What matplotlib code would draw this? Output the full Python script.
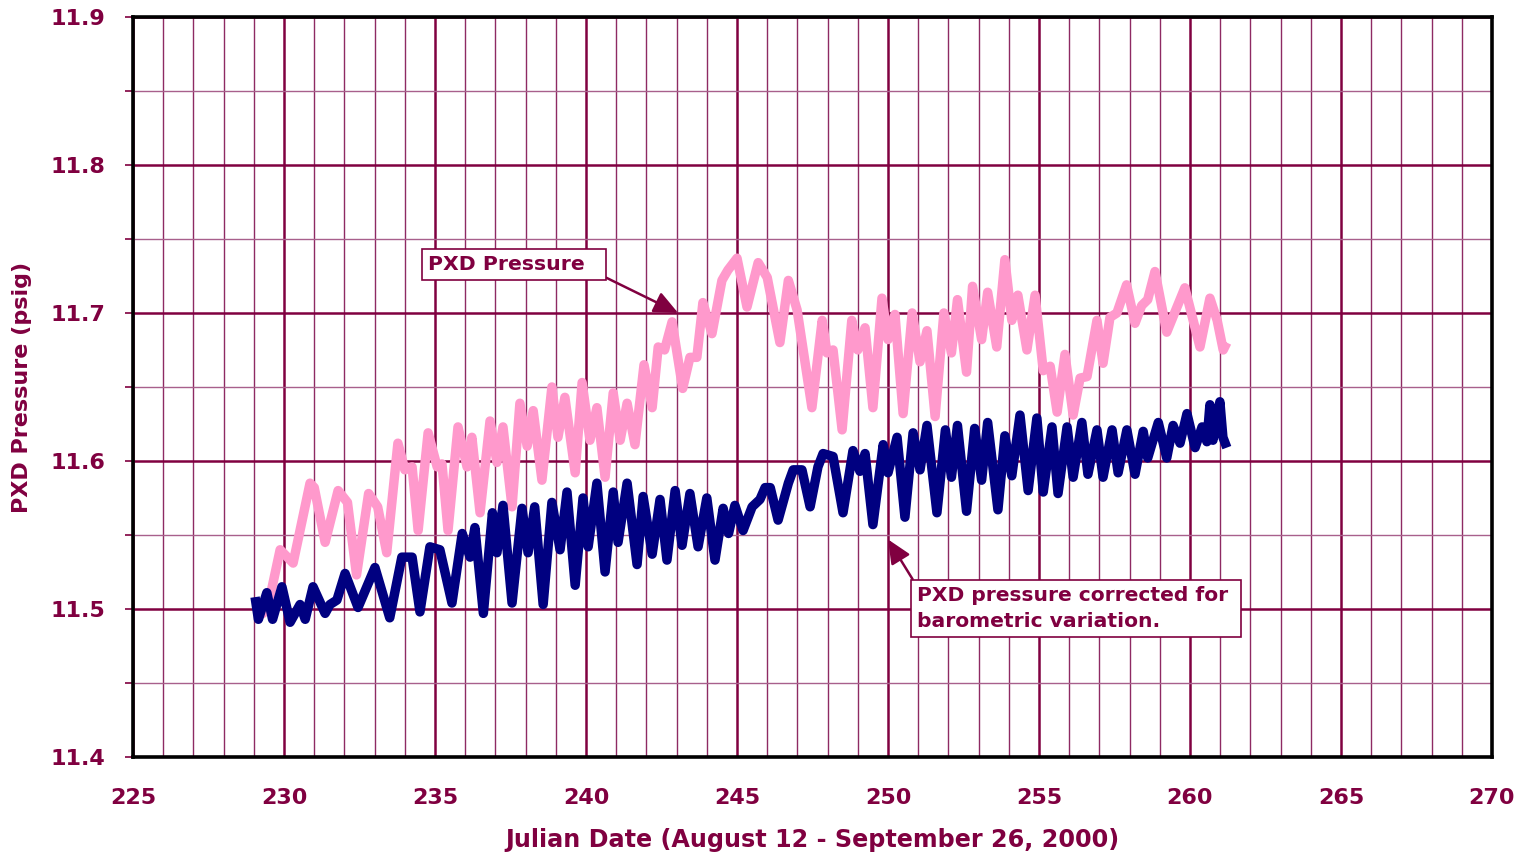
import matplotlib
matplotlib.use("Agg")
import matplotlib.pyplot as plt
from matplotlib.ticker import MultipleLocator

# Raw PXD pressure (psig) by Julian date
pxd_day = [229.10, 229.30, 229.45, 229.87, 230.30, 230.86, 231.00, 231.36, 231.79, 232.10,
           232.40, 232.80, 233.10, 233.40, 233.77, 234.00, 234.24, 234.44, 234.77, 235.07,
           235.23, 235.43, 235.76, 236.06, 236.22, 236.49, 236.82, 237.05, 237.25, 237.55,
           237.81, 238.05, 238.25, 238.54, 238.87, 239.07, 239.30, 239.64, 239.87, 240.13,
           240.36, 240.63, 240.90, 241.13, 241.36, 241.62, 241.92, 242.19, 242.39, 242.60,
           242.85, 243.20, 243.44, 243.67, 243.87, 244.17, 244.50, 244.70, 245.00, 245.33,
           245.70, 246.00, 246.42, 246.70, 246.99, 247.48, 247.82, 247.98, 248.18, 248.48,
           248.80, 249.00, 249.24, 249.50, 249.80, 250.00, 250.23, 250.50, 250.80, 251.06,
           251.29, 251.56, 251.85, 252.10, 252.30, 252.60, 252.80, 253.10, 253.30, 253.60,
           253.87, 254.10, 254.30, 254.60, 254.87, 255.14, 255.37, 255.60, 255.86, 256.13,
           256.36, 256.59, 256.92, 257.12, 257.35, 257.58, 257.90, 258.18, 258.40, 258.60,
           258.84, 259.23, 259.83, 260.33, 260.66, 260.90, 261.10, 261.22]
pxd_val = [11.495, 11.497, 11.500, 11.540, 11.531, 11.585, 11.582, 11.545, 11.580, 11.572,
           11.523, 11.578, 11.569, 11.538, 11.612, 11.594, 11.596, 11.553, 11.619, 11.596,
           11.598, 11.553, 11.623, 11.596, 11.616, 11.565, 11.627, 11.599, 11.623, 11.569,
           11.639, 11.610, 11.634, 11.587, 11.650, 11.616, 11.643, 11.592, 11.653, 11.614,
           11.636, 11.589, 11.646, 11.614, 11.639, 11.611, 11.665, 11.636, 11.677, 11.675,
           11.694, 11.649, 11.670, 11.670, 11.707, 11.686, 11.722, 11.729, 11.737, 11.704,
           11.734, 11.724, 11.680, 11.722, 11.702, 11.636, 11.695, 11.673, 11.675, 11.621,
           11.695, 11.675, 11.690, 11.636, 11.710, 11.682, 11.699, 11.632, 11.700, 11.667,
           11.688, 11.630, 11.700, 11.673, 11.709, 11.660, 11.718, 11.682, 11.714, 11.677,
           11.736, 11.695, 11.712, 11.675, 11.712, 11.661, 11.664, 11.633, 11.672, 11.631,
           11.656, 11.657, 11.695, 11.666, 11.697, 11.700, 11.719, 11.693, 11.705, 11.709,
           11.728, 11.687, 11.717, 11.677, 11.710, 11.695, 11.675, 11.680]

# PXD pressure corrected for barometric variation (psig)
corr_day = [229.04, 229.15, 229.43, 229.62, 229.93, 230.20, 230.53, 230.70, 230.96, 231.36,
            231.52, 231.75, 232.02, 232.45, 233.01, 233.50, 233.90, 234.24, 234.50, 234.83,
            235.16, 235.56, 235.90, 236.16, 236.32, 236.60, 236.90, 237.05, 237.25, 237.55,
            237.88, 238.08, 238.30, 238.58, 238.87, 239.14, 239.37, 239.64, 239.90, 240.07,
            240.36, 240.63, 240.90, 241.06, 241.36, 241.69, 241.89, 242.19, 242.45, 242.68,
            242.95, 243.18, 243.44, 243.71, 244.00, 244.27, 244.54, 244.72, 244.93, 245.20,
            245.50, 245.76, 245.93, 246.10, 246.36, 246.70, 246.86, 247.15, 247.42, 247.68,
            247.85, 248.18, 248.51, 248.84, 249.07, 249.24, 249.50, 249.84, 250.00, 250.30,
            250.56, 250.83, 251.06, 251.29, 251.62, 251.90, 252.10, 252.30, 252.60, 252.87,
            253.10, 253.30, 253.64, 253.87, 254.10, 254.37, 254.64, 254.93, 255.14, 255.43,
            255.63, 255.93, 256.13, 256.42, 256.62, 256.92, 257.12, 257.42, 257.62, 257.91,
            258.18, 258.45, 258.60, 258.95, 259.23, 259.44, 259.67, 259.90, 260.17, 260.40,
            260.56, 260.66, 260.76, 260.99, 261.09, 261.22]
corr_val = [11.508, 11.493, 11.511, 11.493, 11.515, 11.491, 11.503, 11.493, 11.515, 11.497,
            11.503, 11.506, 11.524, 11.501, 11.528, 11.494, 11.535, 11.535, 11.498, 11.542,
            11.540, 11.504, 11.551, 11.535, 11.555, 11.497, 11.565, 11.538, 11.570, 11.504,
            11.568, 11.538, 11.569, 11.503, 11.572, 11.540, 11.579, 11.516, 11.575, 11.542,
            11.585, 11.525, 11.579, 11.545, 11.585, 11.530, 11.576, 11.537, 11.574, 11.533,
            11.580, 11.543, 11.578, 11.542, 11.575, 11.533, 11.568, 11.551, 11.570, 11.553,
            11.569, 11.574, 11.582, 11.582, 11.560, 11.585, 11.594, 11.594, 11.569, 11.596,
            11.605, 11.603, 11.565, 11.607, 11.593, 11.605, 11.557, 11.611, 11.592, 11.616,
            11.562, 11.619, 11.594, 11.624, 11.565, 11.621, 11.589, 11.624, 11.566, 11.622,
            11.587, 11.626, 11.567, 11.617, 11.590, 11.631, 11.580, 11.629, 11.579, 11.623,
            11.578, 11.623, 11.589, 11.626, 11.591, 11.621, 11.589, 11.621, 11.592, 11.621,
            11.591, 11.620, 11.602, 11.626, 11.602, 11.624, 11.612, 11.632, 11.609, 11.623,
            11.613, 11.638, 11.614, 11.640, 11.616, 11.609]

x_range = (225, 270)
y_range = (11.4, 11.9)

TEXT = "#800040"
FONT = ["DejaVu Sans"]

plt.rcParams["font.family"] = FONT
plt.rcParams["font.weight"] = "bold"

fig = plt.figure(figsize=(15.26, 8.56), dpi=100)
ax = fig.add_axes([0.0872, 0.1157, 0.8905, 0.8645])

ax.set_xlim(*x_range)
ax.set_ylim(*y_range)

ax.xaxis.set_major_locator(MultipleLocator(5))
ax.xaxis.set_minor_locator(MultipleLocator(1))
ax.yaxis.set_major_locator(MultipleLocator(0.1))
ax.yaxis.set_minor_locator(MultipleLocator(0.05))

# grid: heavy lines on major ticks, light lines on minor ticks
ax.grid(which="major", axis="both", color="#800040", linewidth=1.8, zorder=0)
ax.grid(which="minor", axis="x", color="#8e2a63", linewidth=1.0, zorder=0)
ax.grid(which="minor", axis="y", color="#a8608c", linewidth=1.0, zorder=0)

ax.plot(pxd_day, pxd_val, color="#ff99cc", linewidth=6.8, solid_joinstyle="round",
        solid_capstyle="butt", zorder=3)
ax.plot(corr_day, corr_val, color="#000080", linewidth=6.8, solid_joinstyle="round",
        solid_capstyle="butt", zorder=4)

for s in ax.spines.values():
    s.set_color("black")
    s.set_linewidth(2.6)

ax.yaxis.set_major_formatter(plt.FuncFormatter(lambda v, p: f"{v:.1f}"))
ax.tick_params(axis="y", which="both", direction="out", length=6, width=1.2,
               color=TEXT, labelcolor=TEXT, labelsize=16, pad=14)
ax.tick_params(axis="x", which="major", direction="out", length=0, labelcolor=TEXT,
               labelsize=16, pad=22)
ax.tick_params(axis="x", which="minor", length=0)
for lab in ax.get_xticklabels() + ax.get_yticklabels():
    lab.set_fontweight("bold")

ax.set_xlabel("Julian Date (August 12 - September 26, 2000)", color=TEXT,
              fontsize=17.2, fontweight="bold", labelpad=15)
ax.set_ylabel("PXD Pressure (psig)", color=TEXT, fontsize=16, fontweight="bold",
              labelpad=13)

box = dict(boxstyle="square,pad=0.3", facecolor="white", edgecolor=TEXT, linewidth=1.2)
arrow = dict(arrowstyle="-|>,head_length=1.0,head_width=0.45", color=TEXT,
             linewidth=1.8, shrinkA=0, shrinkB=0)

ax.annotate("PXD Pressure  ", xy=(243.05, 11.700), xytext=(234.78, 11.7325),
            fontsize=14.7, fontweight="bold", color=TEXT, ha="left", va="center",
            bbox=box, arrowprops=dict(arrow, relpos=(1.0, 0.0)), zorder=6)
ax.annotate("PXD pressure corrected for \nbarometric variation.", xy=(250.0, 11.547),
            xytext=(250.95, 11.5005), fontsize=14.6, fontweight="bold", color=TEXT,
            ha="left", va="center", linespacing=1.45,
            bbox=box, arrowprops=dict(arrow, relpos=(0.0, 1.0)), zorder=6)

fig.savefig("out.png", dpi=100, facecolor="white")
